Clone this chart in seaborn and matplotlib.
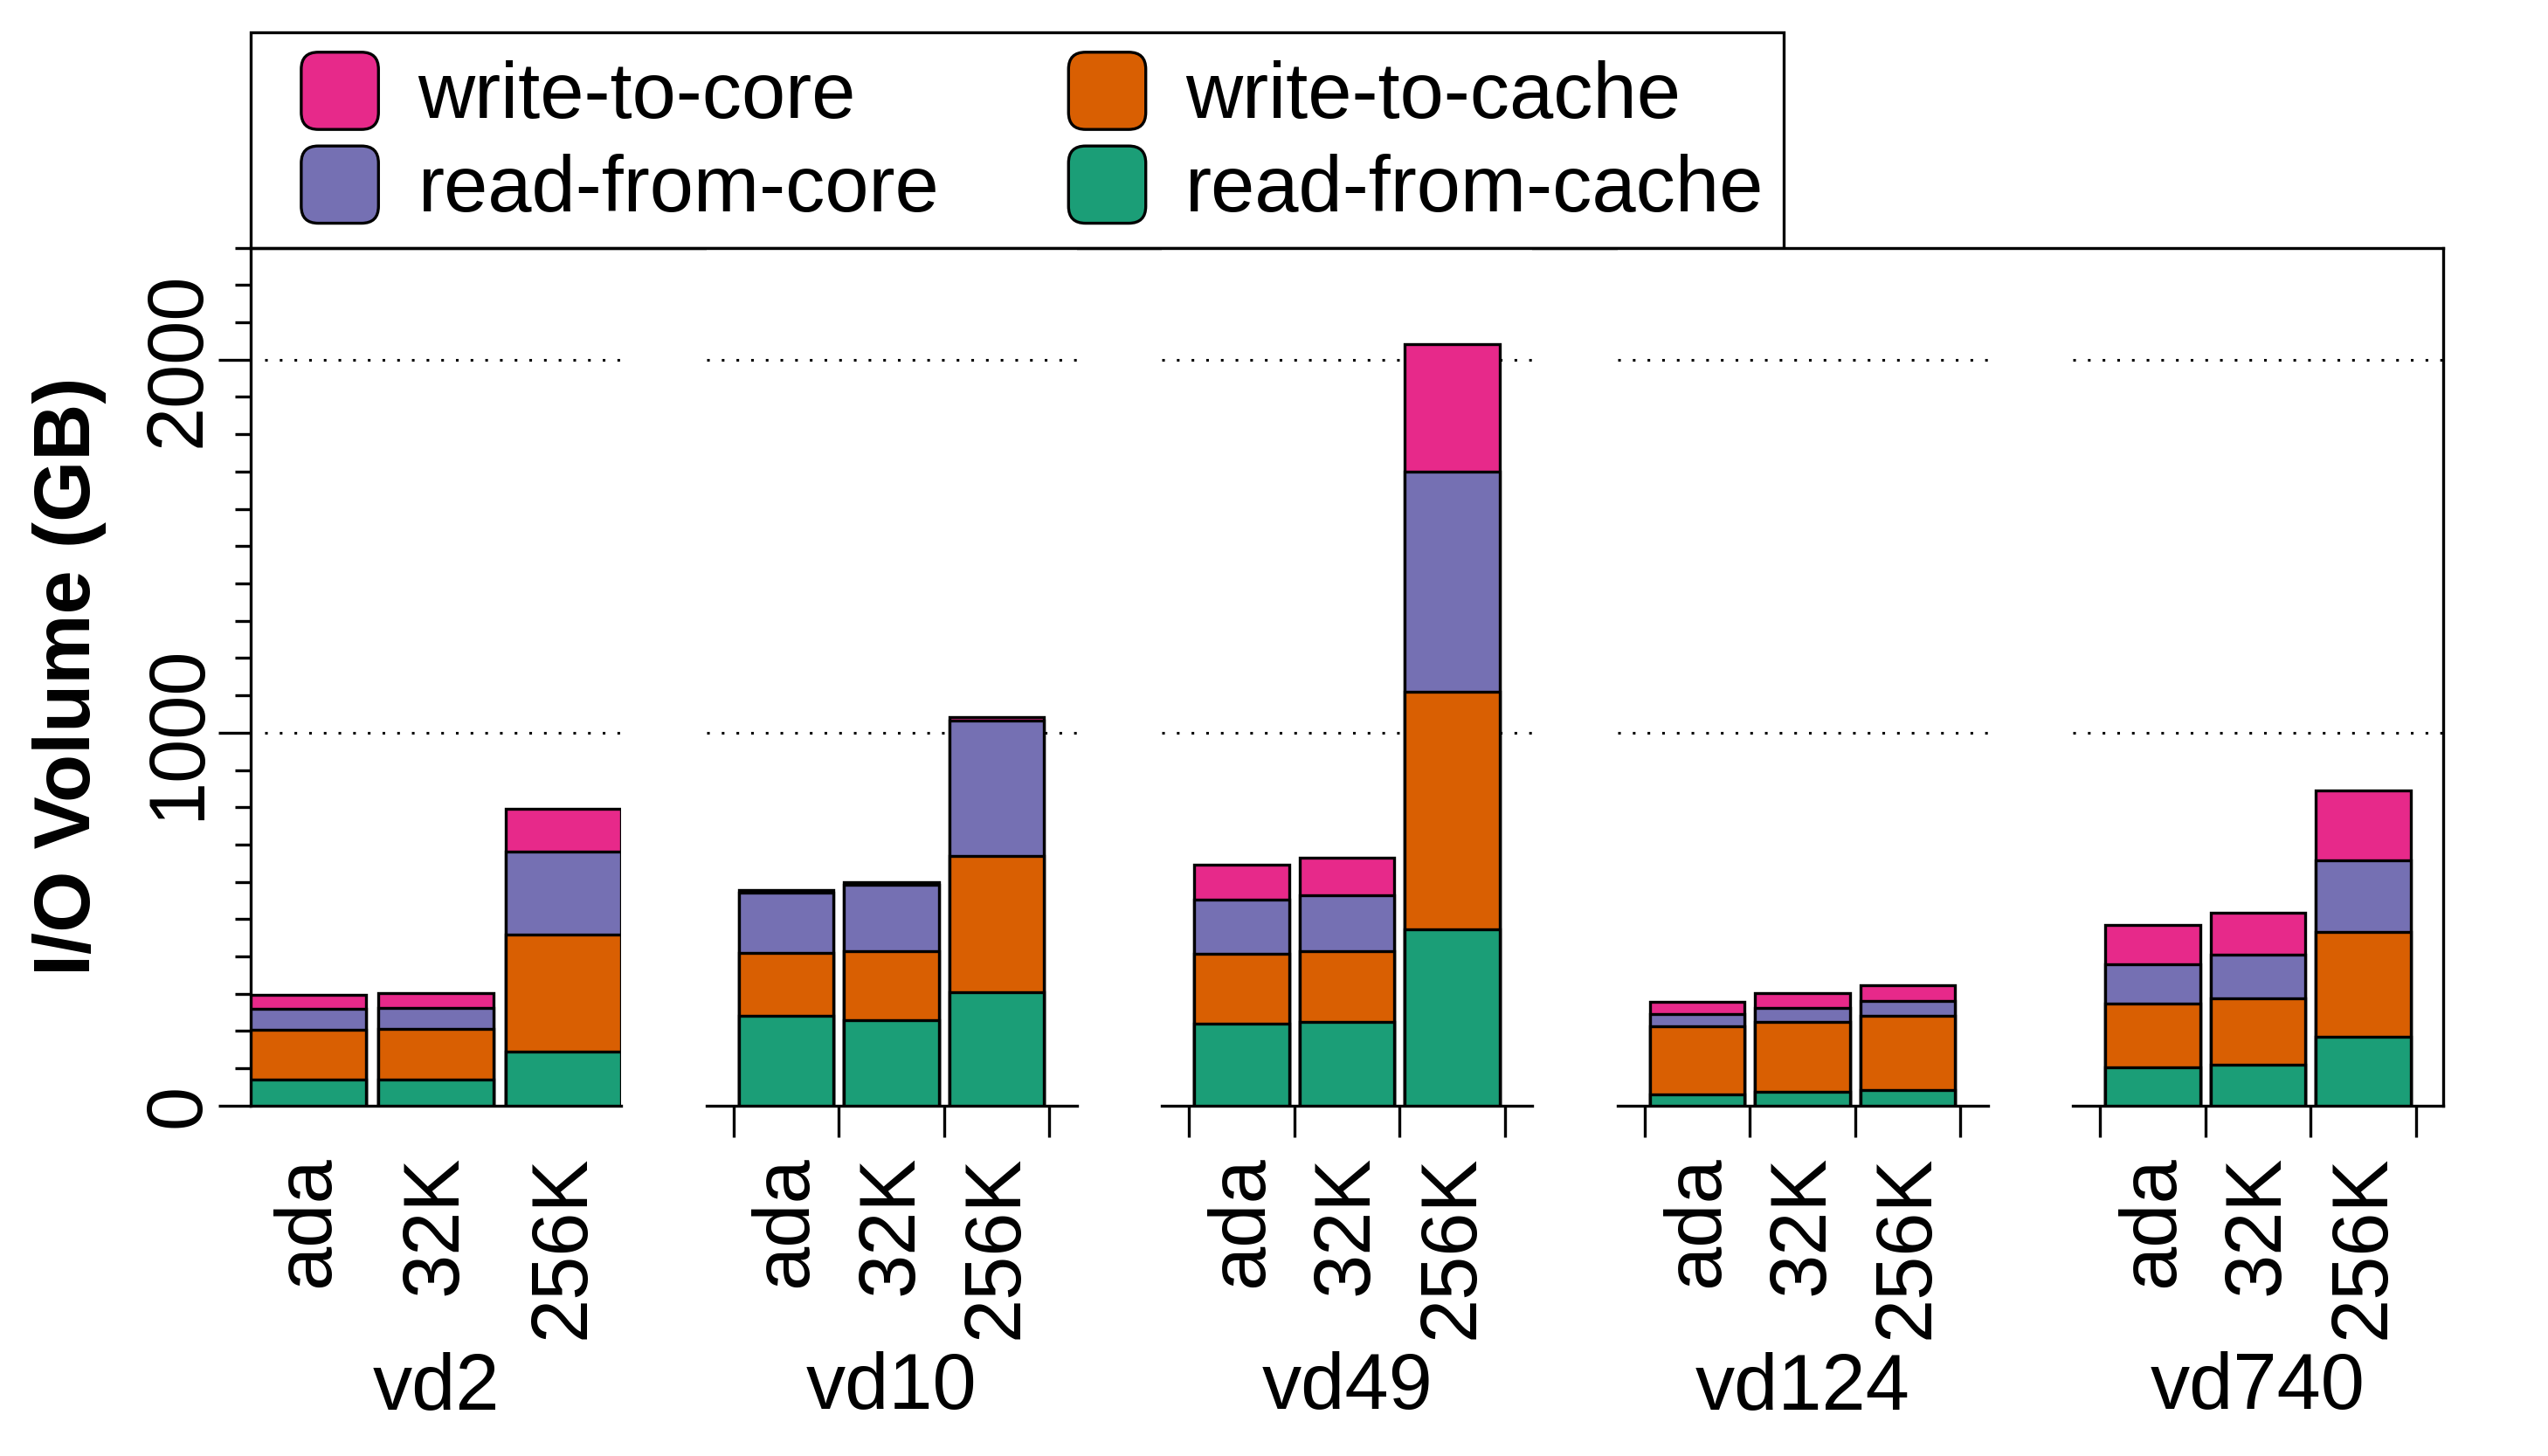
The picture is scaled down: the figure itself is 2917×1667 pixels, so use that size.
import seaborn as sns
import matplotlib.pyplot as plt
import pandas as pd
import numpy as np
from matplotlib.patches import Patch, FancyBboxPatch
from matplotlib.legend_handler import HandlerPatch
from matplotlib.lines import Line2D

# Datos (GB), en orden disco -> configuración
discos = ['vd2', 'vd10', 'vd49', 'vd124', 'vd740']
configs = ['ada', '32K', '256K']

read_from_cache = [69, 71, 144, 240, 230, 304, 219, 224, 472, 31, 37, 41, 102, 111, 185]
write_to_cache = [135, 135, 314, 169, 185, 366, 188, 190, 637, 181, 187, 199, 171, 176, 281]
read_from_core = [55, 56, 223, 163, 177, 362, 146, 151, 591, 33, 38, 41, 107, 117, 192]
write_to_core = [38, 39, 115, 6, 7, 10, 94, 99, 341, 34, 39, 42, 104, 113, 186]

capas = ['read-from-cache', 'write-to-cache', 'read-from-core', 'write-to-core']
colores = {'read-from-cache': '#1B9E77',
           'write-to-cache': '#D95F02',
           'read-from-core': '#7570B3',
           'write-to-core': '#E7298A'}

df = pd.DataFrame({'disco': np.repeat(discos, len(configs)),
                   'config': configs * len(discos),
                   'read-from-cache': read_from_cache,
                   'write-to-cache': write_to_cache,
                   'read-from-core': read_from_core,
                   'write-to-core': write_to_core})

# Acumulados para apilar las barras
acum = df[capas].cumsum(axis=1)
for c in capas:
    df['acum_' + c] = acum[c]

FS = 32.5
LW = 1.2

sns.set_style('ticks')
plt.rcParams['font.family'] = ['Liberation Sans', 'DejaVu Sans']
plt.rcParams['axes.linewidth'] = LW
for k in ['text.color', 'axes.labelcolor', 'axes.edgecolor', 'xtick.color', 'ytick.color']:
    plt.rcParams[k] = 'black'


class HandlerCaja(HandlerPatch):
    # Cuadrito redondeado como en la leyenda original
    def create_artists(self, legend, orig_handle, xdescent, ydescent,
                       width, height, fontsize, trans):
        lado = height
        caja = FancyBboxPatch((-xdescent + width - lado, -ydescent), lado, lado,
                              boxstyle=f'round,pad=0,rounding_size={lado * 0.22}',
                              facecolor=orig_handle.get_facecolor(),
                              edgecolor='black', linewidth=LW, transform=trans)
        return [caja]


fig, axes = plt.subplots(1, 5, figsize=(14.585, 8.335), dpi=200, sharey=True)
fig.subplots_adjust(left=0.0984, right=0.9589, bottom=0.2406, top=0.8299, wspace=0.23)

for i, (ax, disco) in enumerate(zip(axes, discos)):
    sub = df[df['disco'] == disco]

    # Dibujamos desde la capa superior hacia abajo
    for c in reversed(capas):
        sns.barplot(data=sub, x='config', y='acum_' + c, order=configs,
                    color=colores[c], saturation=1, width=0.9,
                    edgecolor='black', linewidth=LW, errorbar=None,
                    ax=ax, zorder=3)

    # Líneas punteadas de referencia
    for v in [1000, 2000]:
        ax.axhline(v, xmin=0.037 if i == 0 else 0, xmax=1, color='black',
                   lw=1.1, ls=(0, (1, 4.5)), zorder=1)

    if i == 0:
        ax.set_xlim(-0.45, 2.45)
    else:
        ax.set_xlim(-0.76, 2.76)
        ax.set_xticks([-0.5, 0.5, 1.5, 2.5], minor=True)
        ax.tick_params(axis='x', which='minor', length=13, width=LW, direction='out')

    ax.set_xticks([0, 1, 2])
    ax.set_xticklabels(configs, rotation=90, va='top', ha='center')
    ax.tick_params(axis='x', which='major', length=0, pad=20.5, labelsize=FS)
    ax.set_xlabel(disco, fontsize=FS, labelpad=5)
    ax.set_ylabel('')

    ax.spines['top'].set_visible(False)
    ax.spines['left'].set_visible(i == 0)
    ax.spines['right'].set_visible(i == 4)
    for s in ax.spines.values():
        s.set_linewidth(LW)
        s.set_color('black')

    if i > 0:
        ax.tick_params(axis='y', which='both', left=False, labelleft=False)

ax0 = axes[0]
ax0.set_ylim(0, 2300)
ax0.set_yticks([0, 1000, 2000])
ax0.set_yticks(np.arange(0, 2301, 100), minor=True)
ax0.tick_params(axis='y', which='major', length=13.3, width=LW, pad=1,
                labelsize=FS, labelrotation=90)
ax0.tick_params(axis='y', which='minor', length=6.5, width=LW)
for lab in ax0.get_yticklabels():
    lab.set_va('center')

ax0.set_ylabel('I/O Volume (GB)', fontsize=FS, fontweight='bold')
ax0.yaxis.set_label_coords(-0.39, 0.5)

# Línea superior continua sobre todos los paneles
p0 = axes[0].get_position()
p4 = axes[4].get_position()
fig.add_artist(Line2D([p0.x0, p4.x1], [p0.y1, p0.y1], transform=fig.transFigure,
                      color='black', lw=LW, solid_capstyle='projecting'))

# Leyenda
orden = ['write-to-core', 'read-from-core', 'write-to-cache', 'read-from-cache']
handles = [Patch(facecolor=colores[c], edgecolor='black', label=c) for c in orden]
leg = ax0.legend(handles=handles, loc='lower left', bbox_to_anchor=(0, 1), ncol=2,
                 borderaxespad=0, fontsize=FS, frameon=True, fancybox=False,
                 edgecolor='black', framealpha=1, handlelength=1.37,
                 handleheight=1.13, handletextpad=0.5, columnspacing=1.25,
                 labelspacing=0.15, borderpad=0.25,
                 handler_map={Patch: HandlerCaja()})
leg.get_frame().set_linewidth(LW)

fig.savefig('out.png', dpi=200)
plt.close()
